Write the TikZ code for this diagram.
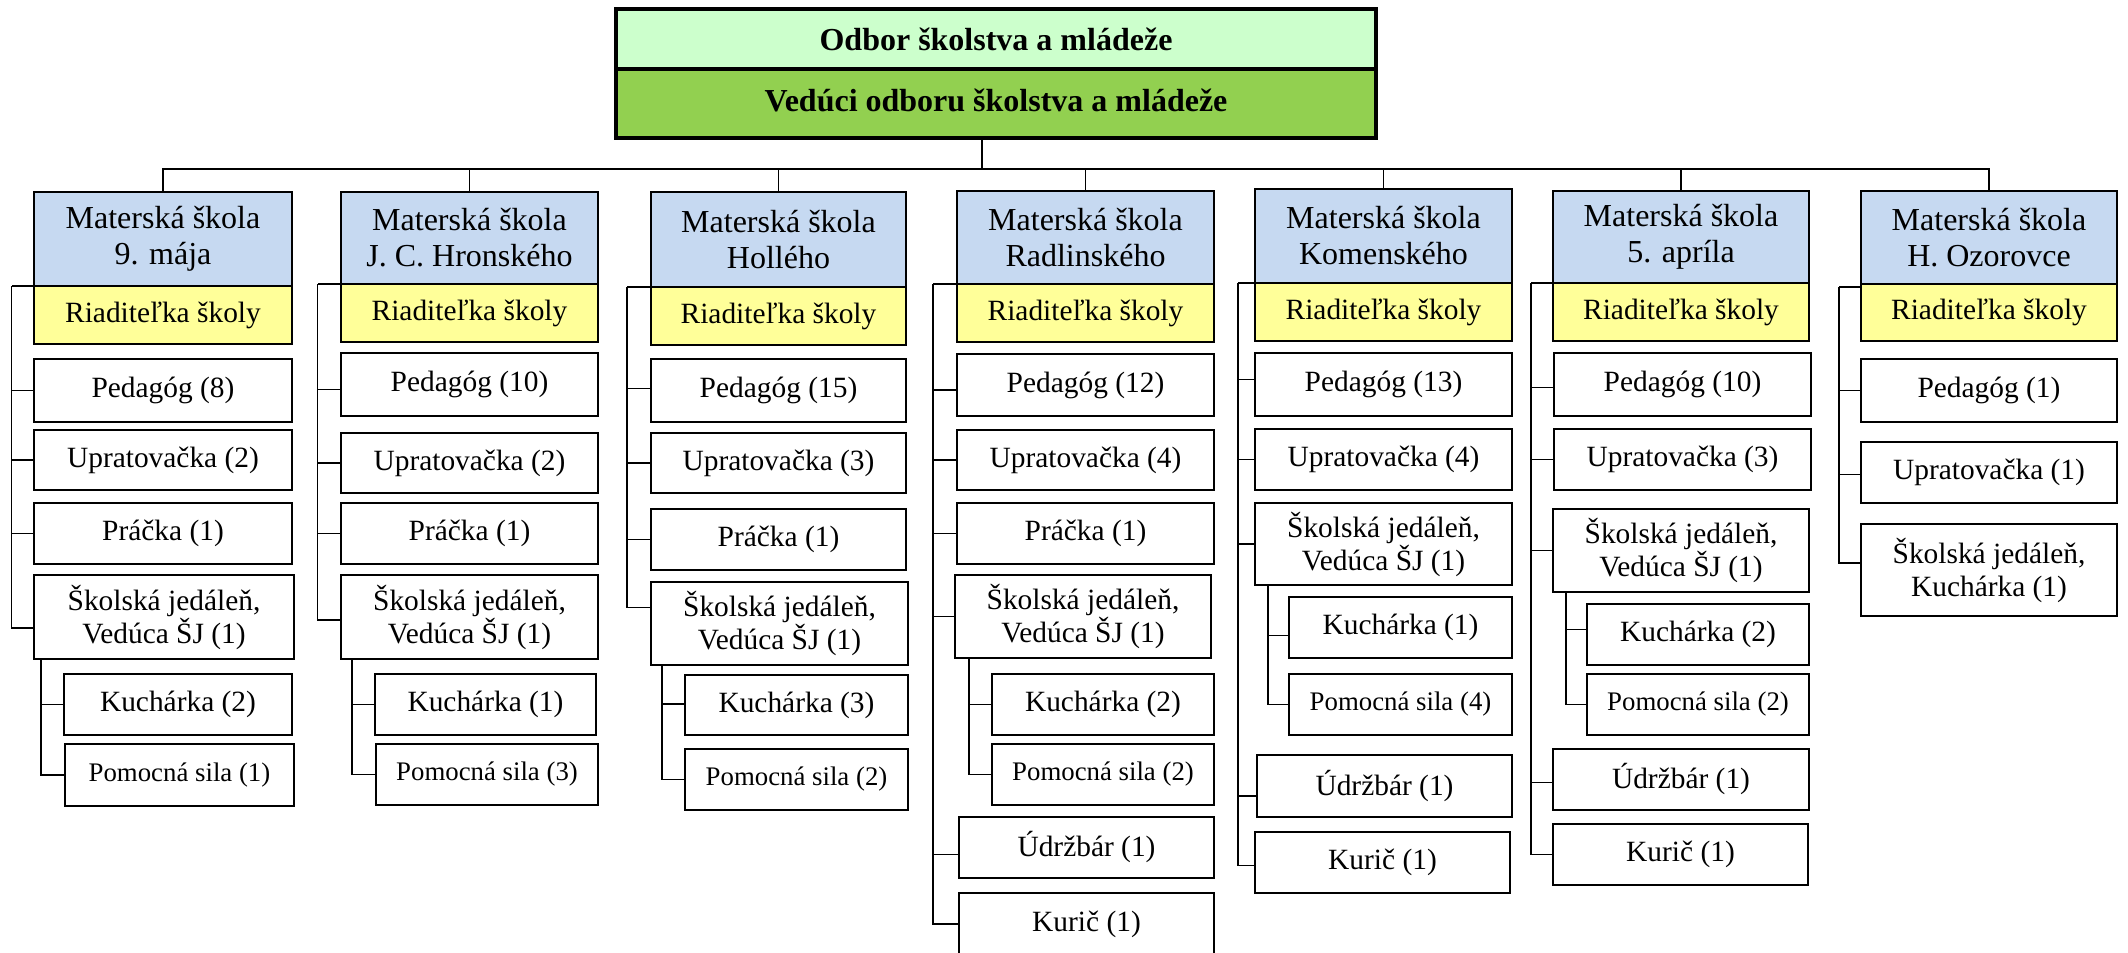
\documentclass[tikz,border=0pt]{standalone}
\usepackage{fontspec}
\setmainfont{Liberation Serif}
\definecolor{lgreen}{HTML}{CCFFCC}
\definecolor{dgreen}{HTML}{92D050}
\definecolor{hblue}{HTML}{C6D9F1}
\definecolor{hyel}{HTML}{FFFF99}
\tikzset{
  box/.style={draw, line width=0.85pt, inner sep=0pt, align=center, fill=white,
    font=\fontsize{14.7}{16.5}\selectfont},
  headbox/.style={fill=hblue, font=\fontsize{16}{18}\selectfont},
  yelbox/.style={fill=hyel},
  smallbox/.style={font=\fontsize{13.4}{15}\selectfont},
  topbox/.style={line width=1.7pt, font=\fontsize{16}{18}\selectfont\bfseries},
  conn/.style={draw, line width=0.65pt}
}
\newcommand\obox[7][]{\node[box,#1,minimum width={(#5-#3)*0.5pt},minimum height={(#6-#4)*0.5pt}] (#2) at ({(#3+#5)/2},{(#4+#6)/2}) {#7};}
\begin{document}
\begin{tikzpicture}[x=0.5pt,y=-0.5pt]
\useasboundingbox (0,0) rectangle (2128,952);
% top
\obox[topbox,fill=lgreen]{odbor}{616}{9}{1376}{69}{Odbor školstva a mládeže}
\obox[topbox,fill=dgreen]{veduci}{616}{69}{1376}{138}{\raisebox{3pt}{Vedúci odboru školstva a mládeže}}
\coordinate (bus) at (982,169);
% column 1
\obox[headbox]{h1}{34}{192}{292}{286}{Materská škola\\9. mája}
\obox[yelbox]{y1}{34}{286}{292}{344}{Riaditeľka školy}
\obox{p1}{34}{359}{292}{422}{Pedagóg (8)}
\obox{u1}{34}{430}{292}{490}{Upratovačka (2)}
\obox{r1}{34}{503}{292}{564}{Práčka (1)}
\obox{j1}{34}{575}{294}{659}{Školská jedáleň,\\Vedúca ŠJ (1)}
\obox{k1}{64}{674}{292}{735}{Kuchárka (2)}
\obox[smallbox]{m1}{65}{744}{294}{806}{Pomocná sila (1)}
% column 2
\obox[headbox]{h2}{341}{192}{598}{284}{Materská škola\\J. C. Hronského}
\obox[yelbox]{y2}{341}{284}{598}{342}{Riaditeľka školy}
\obox{p2}{341}{353}{598}{416}{Pedagóg (10)}
\obox{u2}{341}{433}{598}{493}{Upratovačka (2)}
\obox{r2}{341}{503}{598}{564}{Práčka (1)}
\obox{j2}{341}{575}{598}{659}{Školská jedáleň,\\Vedúca ŠJ (1)}
\obox{k2}{375}{674}{596}{735}{Kuchárka (1)}
\obox[smallbox]{m2}{376}{744}{598}{805}{Pomocná sila (3)}
% column 3
\obox[headbox]{h3}{651}{192}{906}{287}{Materská škola\\Hollého}
\obox[yelbox]{y3}{651}{287}{906}{345}{Riaditeľka školy}
\obox{p3}{651}{359}{906}{422}{Pedagóg (15)}
\obox{u3}{651}{433}{906}{493}{Upratovačka (3)}
\obox{r3}{651}{509}{906}{570}{Práčka (1)}
\obox{j3}{651}{582}{908}{665}{Školská jedáleň,\\Vedúca ŠJ (1)}
\obox{k3}{685}{675}{908}{735}{Kuchárka (3)}
\obox[smallbox]{m3}{685}{749}{908}{810}{Pomocná sila (2)}
% column 4
\obox[headbox]{h4}{957}{191}{1214}{284}{Materská škola\\Radlinského}
\obox[yelbox]{y4}{957}{284}{1214}{342}{Riaditeľka školy}
\obox{p4}{957}{354}{1214}{416}{Pedagóg (12)}
\obox{u4}{957}{430}{1214}{490}{Upratovačka (4)}
\obox{r4}{957}{503}{1214}{564}{Práčka (1)}
\obox{j4}{955}{575}{1211}{658}{Školská jedáleň,\\Vedúca ŠJ (1)}
\obox{k4}{992}{674}{1214}{735}{Kuchárka (2)}
\obox[smallbox]{m4}{992}{744}{1214}{805}{Pomocná sila (2)}
\obox{d4}{959}{817}{1214}{878}{Údržbár (1)}
\obox{c4}{959}{893}{1214}{955}{Kurič (1)}
% column 5
\obox[headbox]{h5}{1255}{189}{1512}{283}{Materská škola\\Komenského}
\obox[yelbox]{y5}{1255}{283}{1512}{341}{Riaditeľka školy}
\obox{p5}{1255}{353}{1512}{416}{Pedagóg (13)}
\obox{u5}{1255}{429}{1512}{490}{Upratovačka (4)}
\obox{j5}{1255}{503}{1512}{585}{Školská jedáleň,\\Vedúca ŠJ (1)}
\obox{k5}{1289}{597}{1512}{658}{Kuchárka (1)}
\obox[smallbox]{m5}{1289}{674}{1512}{735}{Pomocná sila (4)}
\obox{d5}{1257}{755}{1512}{817}{Údržbár (1)}
\obox{c5}{1255}{832}{1510}{893}{Kurič (1)}
% column 6
\obox[headbox]{h6}{1553}{191}{1809}{283}{Materská škola\\5. apríla}
\obox[yelbox]{y6}{1553}{283}{1809}{341}{Riaditeľka školy}
\obox{p6}{1554}{353}{1811}{416}{Pedagóg (10)}
\obox{u6}{1554}{429}{1811}{490}{Upratovačka (3)}
\obox{j6}{1553}{509}{1809}{592}{Školská jedáleň,\\Vedúca ŠJ (1)}
\obox{k6}{1587}{604}{1809}{665}{Kuchárka (2)}
\obox[smallbox]{m6}{1587}{674}{1809}{735}{Pomocná sila (2)}
\obox{d6}{1553}{749}{1809}{810}{Údržbár (1)}
\obox{c6}{1553}{824}{1808}{885}{Kurič (1)}
% column 7
\obox[headbox]{h7}{1861}{191}{2117}{284}{Materská škola\\H. Ozorovce}
\obox[yelbox]{y7}{1861}{284}{2117}{341}{Riaditeľka školy}
\obox{p7}{1861}{359}{2117}{422}{Pedagóg (1)}
\obox{u7}{1861}{442}{2117}{503}{Upratovačka (1)}
\obox{j7}{1861}{524}{2117}{616}{Školská jedáleň,\\Kuchárka (1)}
% bus
\draw[conn] (bus |- veduci.south) -- (bus);
\draw[conn] (h1.north) -- (h1.north |- bus) -- (h7.north |- bus) -- (h7.north);
\foreach \h in {h2,h3,h4,h5,h6} \draw[conn] (\h.north) -- (\h.north |- bus);
% spines (offsets in px, downward)
\coordinate (s1) at (11.5,286);
\coordinate (s2) at (317.5,284);
\coordinate (s3) at (627,287);
\coordinate (s4) at (933,284);
\coordinate (s5) at (1238,283);
\coordinate (s6) at (1531,283);
\coordinate (s7) at (1839,287);
\foreach \s/\y/\kids in {
    s1/y1/{p1/0,u1/0,r1/0,j1/11},
    s2/y2/{p2/5,u2/0,r2/0,j2/3},
    s3/y3/{p3/-2,u3/0,r3/0,j3/-16},
    s4/y4/{p4/5,u4/0,r4/0,j4/0,d4/7,c4/0},
    s5/y5/{p5/-5,u5/0,j5/0,d5/10,c5/3},
    s6/y6/{p6/3,u6/0,j6/0,d6/3,c6/0},
    s7/y7/{p7/0,u7/2,j7/-7}}{
  \draw[conn] (\y.north west |- \s) -- (\s);
  \foreach \k/\o in \kids \draw[conn] (\s) |- ([yshift={-\o*0.5pt}]\k.west);
}
% sub spines
\coordinate (t1) at (41,0);
\coordinate (t2) at (352,0);
\coordinate (t3) at (662,0);
\coordinate (t4) at (969,0);
\coordinate (t5) at (1268,0);
\coordinate (t6) at (1566,0);
\foreach \i/\ko in {1/0,2/0,3/-1,4/0,5/8,6/-5}{
  \draw[conn] (t\i |- j\i.south) |- ([yshift={-\ko*0.5pt}]k\i.west);
  \draw[conn] (t\i |- j\i.south) |- (m\i.west);
}
\end{tikzpicture}
\end{document}
